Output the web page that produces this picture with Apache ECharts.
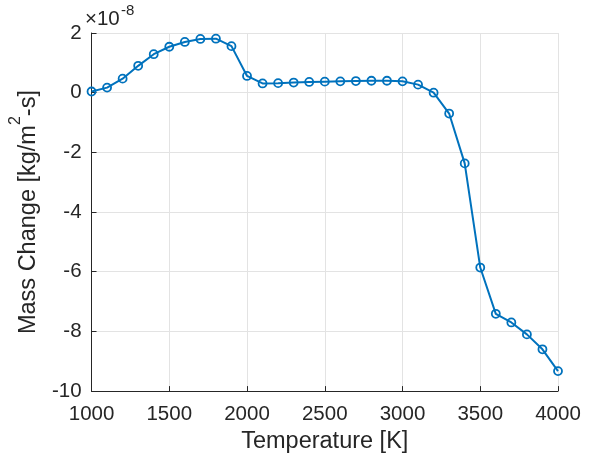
<!DOCTYPE html>
<html>
<head>
<meta charset="utf-8">
<script src="https://cdn.jsdelivr.net/npm/echarts@6/dist/echarts.min.js"></script>
<style>
html,body{margin:0;padding:0;background:#fff;}
#c{width:591px;height:459px;}
</style>
</head>
<body>
<div id="c"></div>
<script>
// Temperature [K]
const temperatures = [1000,1100,1200,1300,1400,1500,1600,1700,1800,1900,2000,2100,2200,2300,2400,2500,2600,2700,2800,2900,3000,3100,3200,3300,3400,3500,3600,3700,3800,3900,4000];
// Mass change in units of 1e-8 kg/m^2-s
const massChange = [0.04,0.17,0.47,0.90,1.29,1.54,1.70,1.80,1.81,1.56,0.56,0.31,0.32,0.34,0.36,0.37,0.38,0.39,0.40,0.40,0.38,0.27,0.00,-0.70,-2.37,-5.86,-7.41,-7.70,-8.10,-8.60,-9.33];
const xTicks = {min:1000, max:4000, step:500};
const yTicks = {min:-10, max:2, step:2};
const exponentLabel = ['×10', '-8'];

const font = '"Liberation Sans", Arial, Helvetica, sans-serif';
const txt = '#262626';
const chart = echarts.init(document.getElementById('c'), null, {renderer:'canvas'});
chart.setOption({
  backgroundColor:'#fff',
  animation:false,
  grid:{left:84, top:33, width:474, height:361, containLabel:false},
  xAxis:{
    type:'value', min:xTicks.min, max:xTicks.max, interval:xTicks.step,
    name:'Temperature [K]', nameLocation:'middle', nameGap:36,
    nameTextStyle:{fontFamily:font, fontSize:23.5, color:txt},
    axisLine:{show:true, onZero:false, lineStyle:{color:txt, width:1}},
    axisTick:{show:true, inside:true, length:5, lineStyle:{color:txt}},
    axisLabel:{fontFamily:font, fontSize:20.5, color:txt, margin:13, formatter:v=>String(v)},
    splitLine:{show:true, lineStyle:{color:'#e3e3e3', width:1}}
  },
  yAxis:{
    type:'value', min:yTicks.min, max:yTicks.max, interval:yTicks.step,
    name:'{a|Mass Change [kg/m}{s|2}{a|-s]}', nameLocation:'middle', nameGap:40,
    nameTextStyle:{fontFamily:font, color:txt,
      rich:{a:{fontFamily:font, fontSize:23.5, color:txt, lineHeight:42, verticalAlign:'middle'},
            s:{fontFamily:font, fontSize:16, color:txt, lineHeight:16, verticalAlign:'top'}}},
    axisLine:{show:true, onZero:false, lineStyle:{color:txt, width:1}},
    axisTick:{show:true, inside:true, length:5, lineStyle:{color:txt}},
    axisLabel:{fontFamily:font, fontSize:20.5, color:txt, margin:10, formatter:v=>String(v)},
    splitLine:{show:true, lineStyle:{color:'#e3e3e3', width:1}}
  },
  graphic:[
    {type:'text', left:85, top:9, style:{text:exponentLabel[0], fontSize:20.5, fontFamily:font, fill:txt}},
    {type:'text', left:121, top:3, style:{text:exponentLabel[1], fontSize:15, fontFamily:font, fill:txt}}
  ],
  series:[{
    type:'line',
    data:temperatures.map((t,i)=>[t, massChange[i]]),
    symbol:'circle', symbolSize:8,
    lineStyle:{color:'#0072BD', width:2},
    itemStyle:{color:'rgba(255,255,255,0)', borderColor:'#0072BD', borderWidth:1.8},
    z:3
  }]
});
</script>
</body>
</html>
